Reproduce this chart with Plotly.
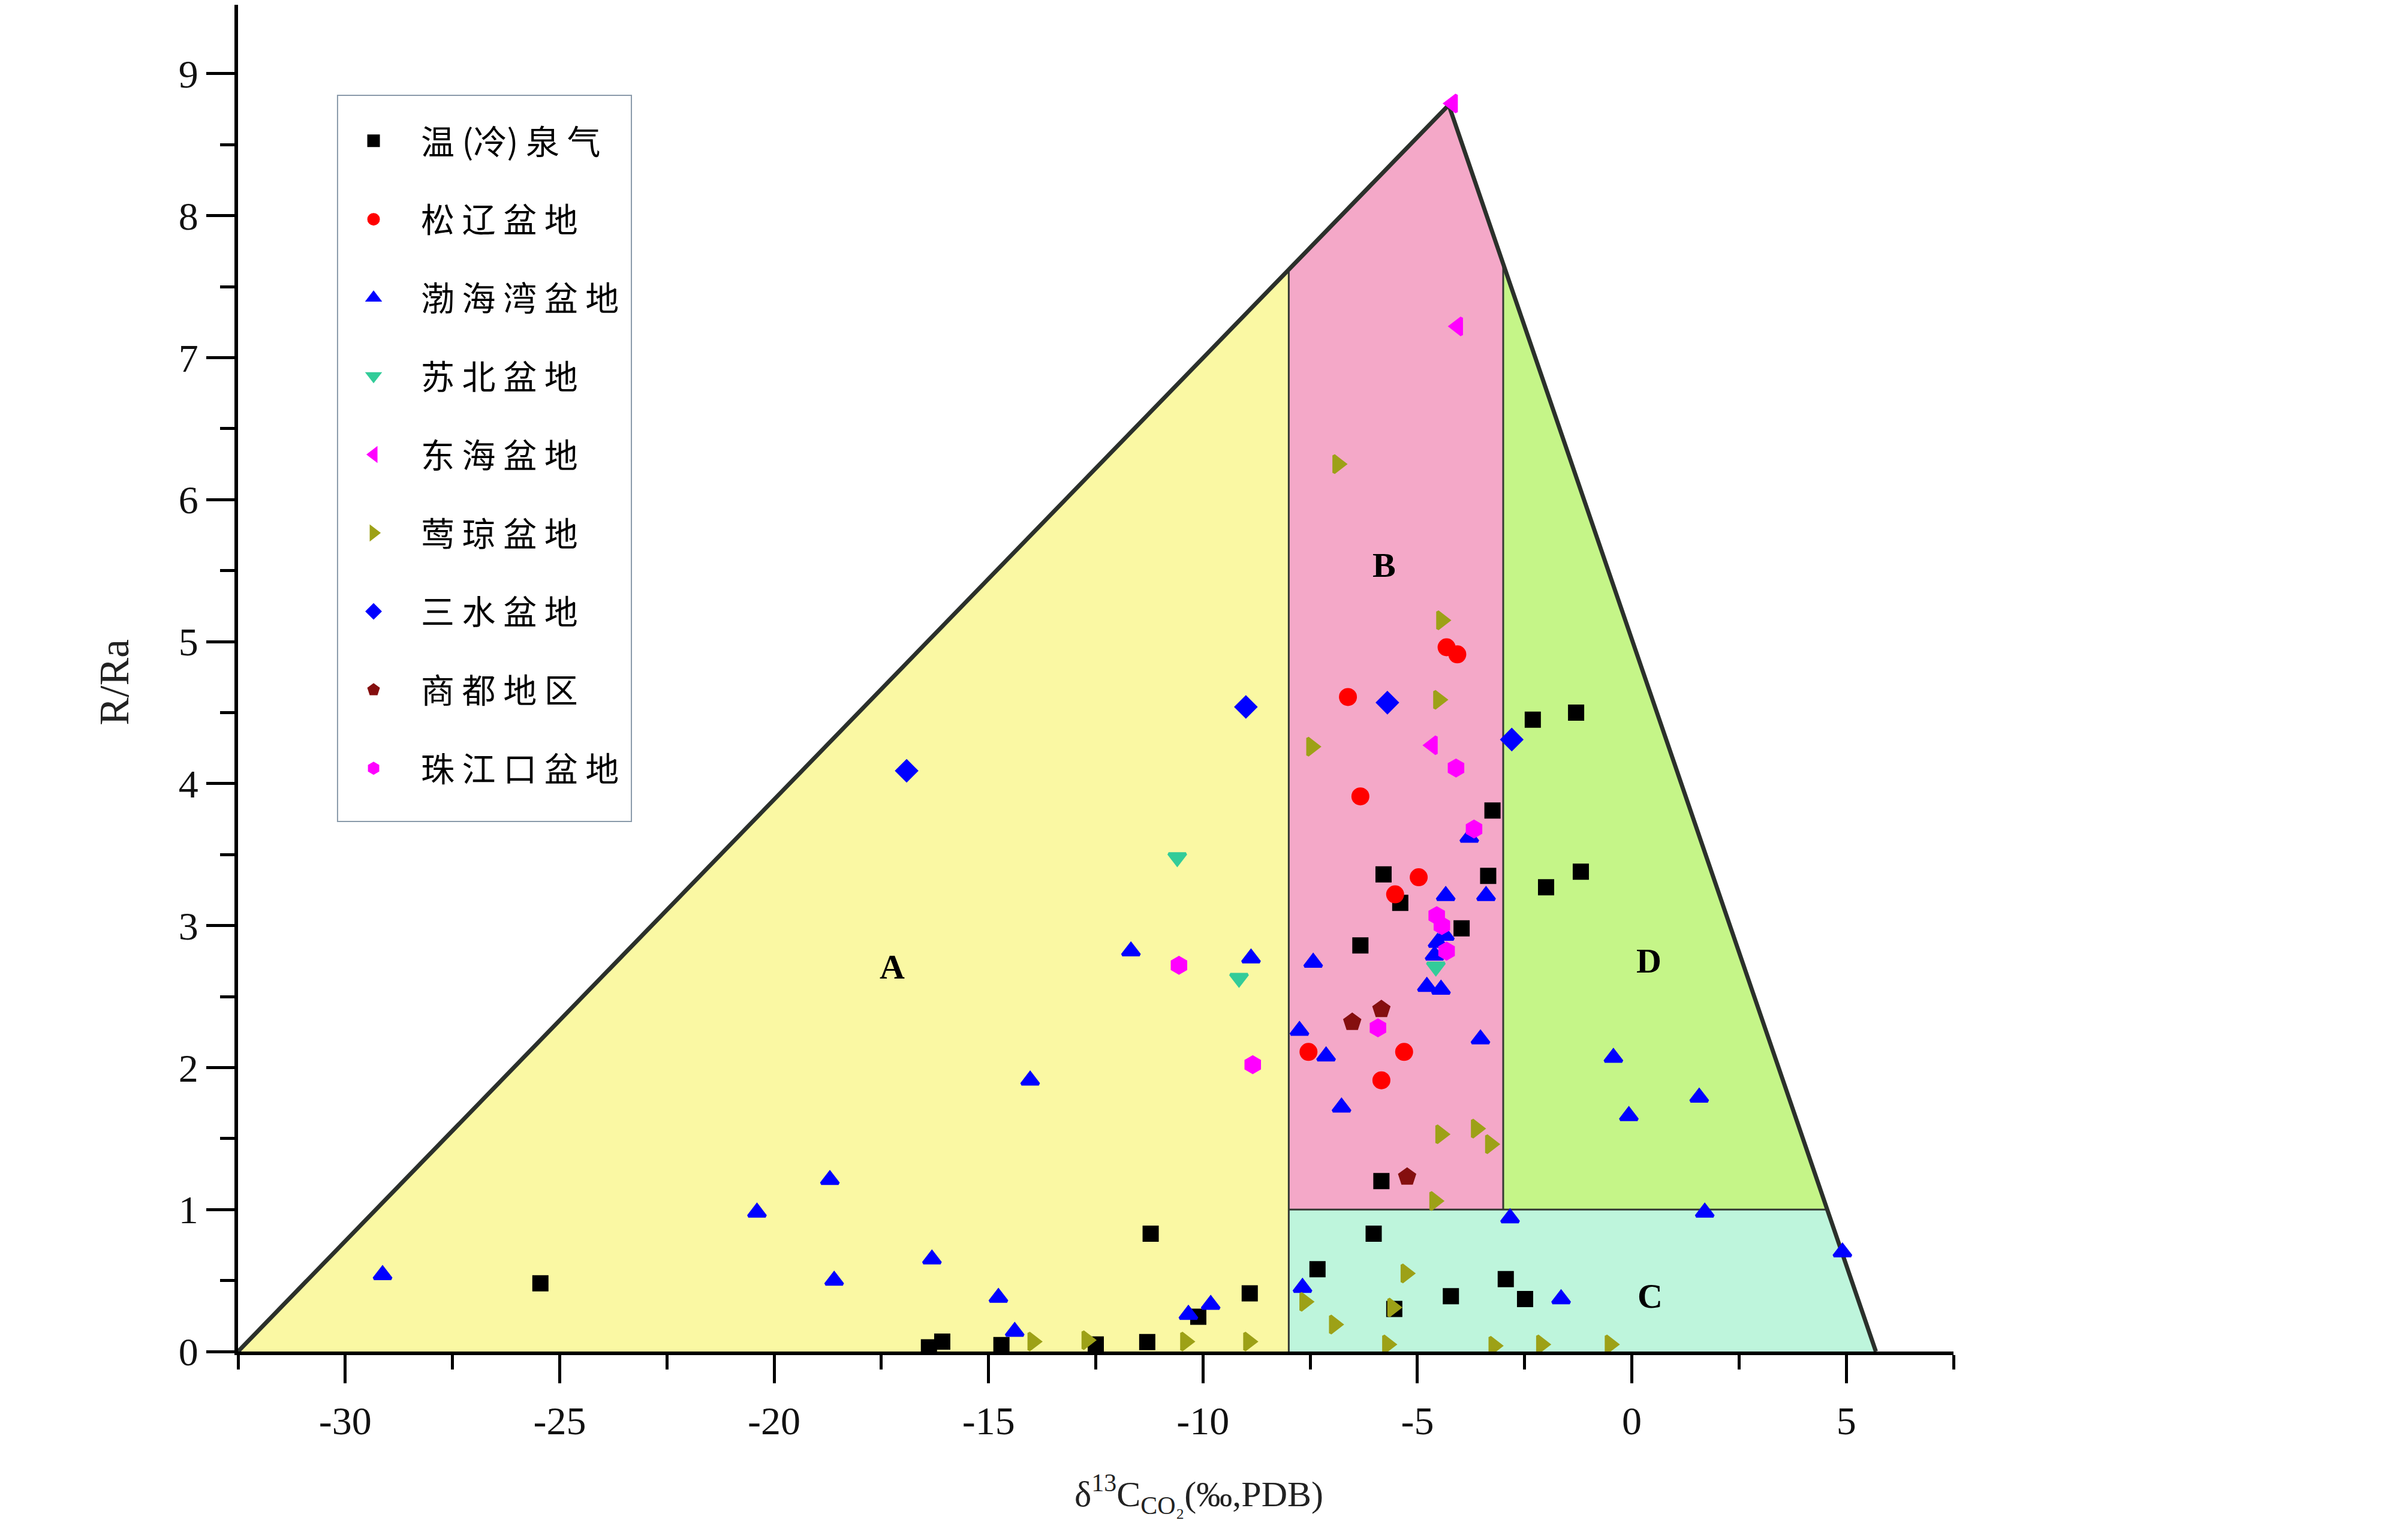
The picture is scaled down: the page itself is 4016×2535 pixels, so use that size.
import plotly.graph_objects as go

# ---------------------------------------------------------------------------
# Data
# ---------------------------------------------------------------------------

spring_x = [-25.45, -16.39, -16.08, -14.70, -12.50, -11.30, -11.22, -10.11, -8.91,
            -7.33, -6.02, -5.84, -5.54, -4.22, -2.94, -2.49, -6.33, -5.79, -5.40,
            -3.97, -3.35, -3.25, -2.31, -1.30, -2.00, -1.19]
spring_y = [0.48, 0.03, 0.07, 0.045, 0.05, 0.066, 0.83, 0.245, 0.41,
            0.58, 0.83, 1.20, 0.30, 0.39, 0.51, 0.37, 2.86, 3.36, 3.16,
            2.98, 3.35, 3.81, 4.45, 4.50, 3.27, 3.38]

songliao_x = [-4.32, -4.07, -6.62, -6.33, -4.97, -5.52, -7.54, -5.31, -5.84]
songliao_y = [4.96, 4.91, 4.61, 3.91, 3.34, 3.22, 2.11, 2.11, 1.91]

bohai_x = [-29.13, -20.40, -18.70, -18.60, -16.32, -14.77, -14.39, -14.03, -11.68,
           -10.34, -9.82, -8.88, -7.75, -7.68, -7.43, -7.13, -6.77, -4.78, -4.45,
           -4.60, -4.53, -4.36, -4.34, -3.40, -3.79, -3.53, -2.84, -1.65, -0.43,
           -0.07, 1.57, 1.70, 4.91]
bohai_y = [0.54, 0.98, 1.21, 0.50, 0.65, 0.38, 0.14, 1.91, 2.82,
           0.26, 0.33, 2.77, 2.26, 0.45, 2.74, 2.08, 1.72, 2.57, 2.55,
           2.79, 2.88, 2.93, 3.21, 3.21, 3.62, 2.20, 0.94, 0.37, 2.07,
           1.66, 1.79, 0.98, 0.70]

subei_x = [-10.60, -9.16, -4.57]
subei_y = [3.48, 2.63, 2.71]

donghai_x = [-4.18, -4.06, -4.65]
donghai_y = [8.79, 7.22, 4.27]

yingqiong_x = [-6.86, -4.44, -4.51, -7.47, -4.46, -3.63, -3.30, -4.60, -5.27, -7.63,
               -6.94, -5.58, -13.97, -12.71, -10.41, -8.94, -5.70, -3.22, -2.11, -0.51]
yingqiong_y = [6.25, 5.15, 4.59, 4.26, 1.53, 1.57, 1.46, 1.06, 0.55, 0.35,
               0.19, 0.31, 0.07, 0.08, 0.07, 0.07, 0.05, 0.04, 0.05, 0.05]

sanshui_x = [-16.91, -9.00, -5.70, -2.80]
sanshui_y = [4.09, 4.54, 4.57, 4.31]

shangdu_x = [-6.52, -5.84, -5.24]
shangdu_y = [2.32, 2.41, 1.23]

zhujiang_x = [-10.56, -8.84, -5.92, -4.10, -3.68, -4.55, -4.43, -4.32]
zhujiang_y = [2.72, 2.02, 2.28, 4.11, 3.68, 3.07, 3.00, 2.82]

# classification diagram geometry
tri_left_x = -32.5
tri_right_x = 5.69
apex_x, apex_y = -4.27, 8.78
bound_ab = -8.0
bound_bd = -3.0
bound_c = 1.0

region_labels = ["A", "B", "C", "D"]
region_label_x = [-17.25, -5.78, 0.43, 0.40]
region_label_y = [2.71, 5.54, 0.39, 2.75]

x_tickvals = [-30, -25, -20, -15, -10, -5, 0, 5]
x_ticktext = ["-30", "-25", "-20", "-15", "-10", "-5", "0", "5"]
x_range = [-32.5, 7.5]
y_range = [0, 9.485]


def y_left(x):
    return apex_y * (x - tri_left_x) / (apex_x - tri_left_x)


def y_right(x):
    return apex_y * (tri_right_x - x) / (tri_right_x - apex_x)


def x_right(y):
    return tri_right_x - y * (tri_right_x - apex_x) / apex_y


fig = go.Figure()

# ---------------------------------------------------------------------------
# Region fills
# ---------------------------------------------------------------------------
regions = [
    ("#FAF8A3", [tri_left_x, bound_ab, bound_ab, tri_left_x],
     [0, 0, y_left(bound_ab), 0]),
    ("#F4A8C8", [bound_ab, bound_bd, bound_bd, apex_x, bound_ab, bound_ab],
     [bound_c, bound_c, y_right(bound_bd), apex_y, y_left(bound_ab), bound_c]),
    ("#C5F588", [bound_bd, x_right(bound_c), bound_bd, bound_bd],
     [bound_c, bound_c, y_right(bound_bd), bound_c]),
    ("#BEF5DC", [bound_ab, tri_right_x, x_right(bound_c), bound_ab, bound_ab],
     [0, 0, bound_c, bound_c, 0]),
]
for color, xs, ys in regions:
    fig.add_trace(go.Scatter(x=xs, y=ys, mode="lines", fill="toself",
                             fillcolor=color, line=dict(width=0),
                             hoverinfo="skip", showlegend=False))

# inner boundaries
fig.add_trace(go.Scatter(
    x=[bound_ab, bound_ab, None, bound_bd, bound_bd, None, bound_ab, x_right(bound_c)],
    y=[0, y_left(bound_ab), None, bound_c, y_right(bound_bd), None, bound_c, bound_c],
    mode="lines", line=dict(color="#333833", width=3),
    hoverinfo="skip", showlegend=False))

# outer triangle outline
fig.add_trace(go.Scatter(
    x=[tri_left_x, apex_x, tri_right_x], y=[0, apex_y, 0],
    mode="lines", line=dict(color="#2B302B", width=7),
    hoverinfo="skip", showlegend=False))

# ---------------------------------------------------------------------------
# Sample series (a same-colour outline makes the legend symbols larger)
# ---------------------------------------------------------------------------
series = [
    ("温 (冷) 泉 气", spring_x, spring_y, "square", "#000000", 22),
    ("松 辽 盆 地", songliao_x, songliao_y, "circle", "#FF0000", 25),
    ("渤 海 湾 盆 地", bohai_x, bohai_y, "triangle-up", "#0000FF", 25),
    ("苏 北 盆 地", subei_x, subei_y, "triangle-down", "#33CC99", 25),
    ("东 海 盆 地", donghai_x, donghai_y, "triangle-left", "#FF00FF", 25),
    ("莺 琼 盆 地", yingqiong_x, yingqiong_y, "triangle-right", "#9DA117", 25),
    ("三 水 盆 地", sanshui_x, sanshui_y, "diamond", "#0000FF", 25),
    ("商 都 地 区", shangdu_x, shangdu_y, "pentagon", "#850F0F", 26),
    ("珠 江 口 盆 地", zhujiang_x, zhujiang_y, "hexagon", "#FF00FF", 26),
]
for i, (name, xs, ys, symbol, color, size) in enumerate(series):
    fig.add_trace(go.Scatter(
        x=xs, y=ys, mode="markers", name=name, legendgroup=f"g{i}",
        marker=dict(symbol=symbol, color=color, size=size,
                    line=dict(width=5, color=color)),
    ))

# region letters
for lab, lx, ly in zip(region_labels, region_label_x, region_label_y):
    fig.add_annotation(x=lx, y=ly, text=f"<b>{lab}</b>", showarrow=False,
                       font=dict(family="Liberation Serif", size=58, color="black"))

# axis titles
fig.add_annotation(x=-10.1, y=-0.106, xref="x", yref="paper",
                   xanchor="center", yanchor="middle",
                   text="δ<sup>13</sup>C<sub>CO₂</sub>(‰,PDB)", showarrow=False,
                   font=dict(family="Liberation Serif", size=60, color="#222"))
fig.add_annotation(x=-0.072, y=0.497, xref="paper", yref="paper",
                   xanchor="center", yanchor="middle", text="R/Ra",
                   textangle=-90, showarrow=False,
                   font=dict(family="Liberation Serif", size=70, color="#222"))

# legend frame
fig.add_shape(type="rect", xref="paper", yref="paper",
              x0=0.0580, x1=0.2293, y0=0.3936, y1=0.9328,
              line=dict(color="#8A9AAA", width=2))

axis_common = dict(
    showline=True, linecolor="black", linewidth=6, mirror=False,
    showgrid=False, zeroline=False, automargin=False,
    ticks="outside", ticklen=47, tickwidth=5, tickcolor="black",
    tickfont=dict(family="Liberation Serif", size=66, color="#111"),
)
fig.update_xaxes(range=x_range, tickvals=x_tickvals, ticktext=x_ticktext,
                 minor=dict(dtick=2.5, tick0=0, ticks="outside", ticklen=24,
                            tickwidth=5, tickcolor="black"),
                 ticklabelstandoff=6, **axis_common)
fig.update_yaxes(range=y_range, dtick=1, tick0=0,
                 minor=dict(dtick=0.5, ticks="outside", ticklen=24, tickwidth=5,
                            tickcolor="black"),
                 **axis_common)

# the page body adds an 8 px margin, so the figure is 8 px smaller than the window
fig.update_layout(
    width=4008, height=2527,
    margin=dict(l=389, r=758, t=0, b=281),
    plot_bgcolor="white", paper_bgcolor="white",
    legend=dict(
        x=0.0514, y=0.9181, xanchor="left", yanchor="top",
        bgcolor="rgba(0,0,0,0)", borderwidth=0,
        font=dict(family="Noto Sans CJK SC", size=56, color="black"),
        tracegroupgap=55, itemwidth=148,
    ),
)

fig.write_html("out.html")
